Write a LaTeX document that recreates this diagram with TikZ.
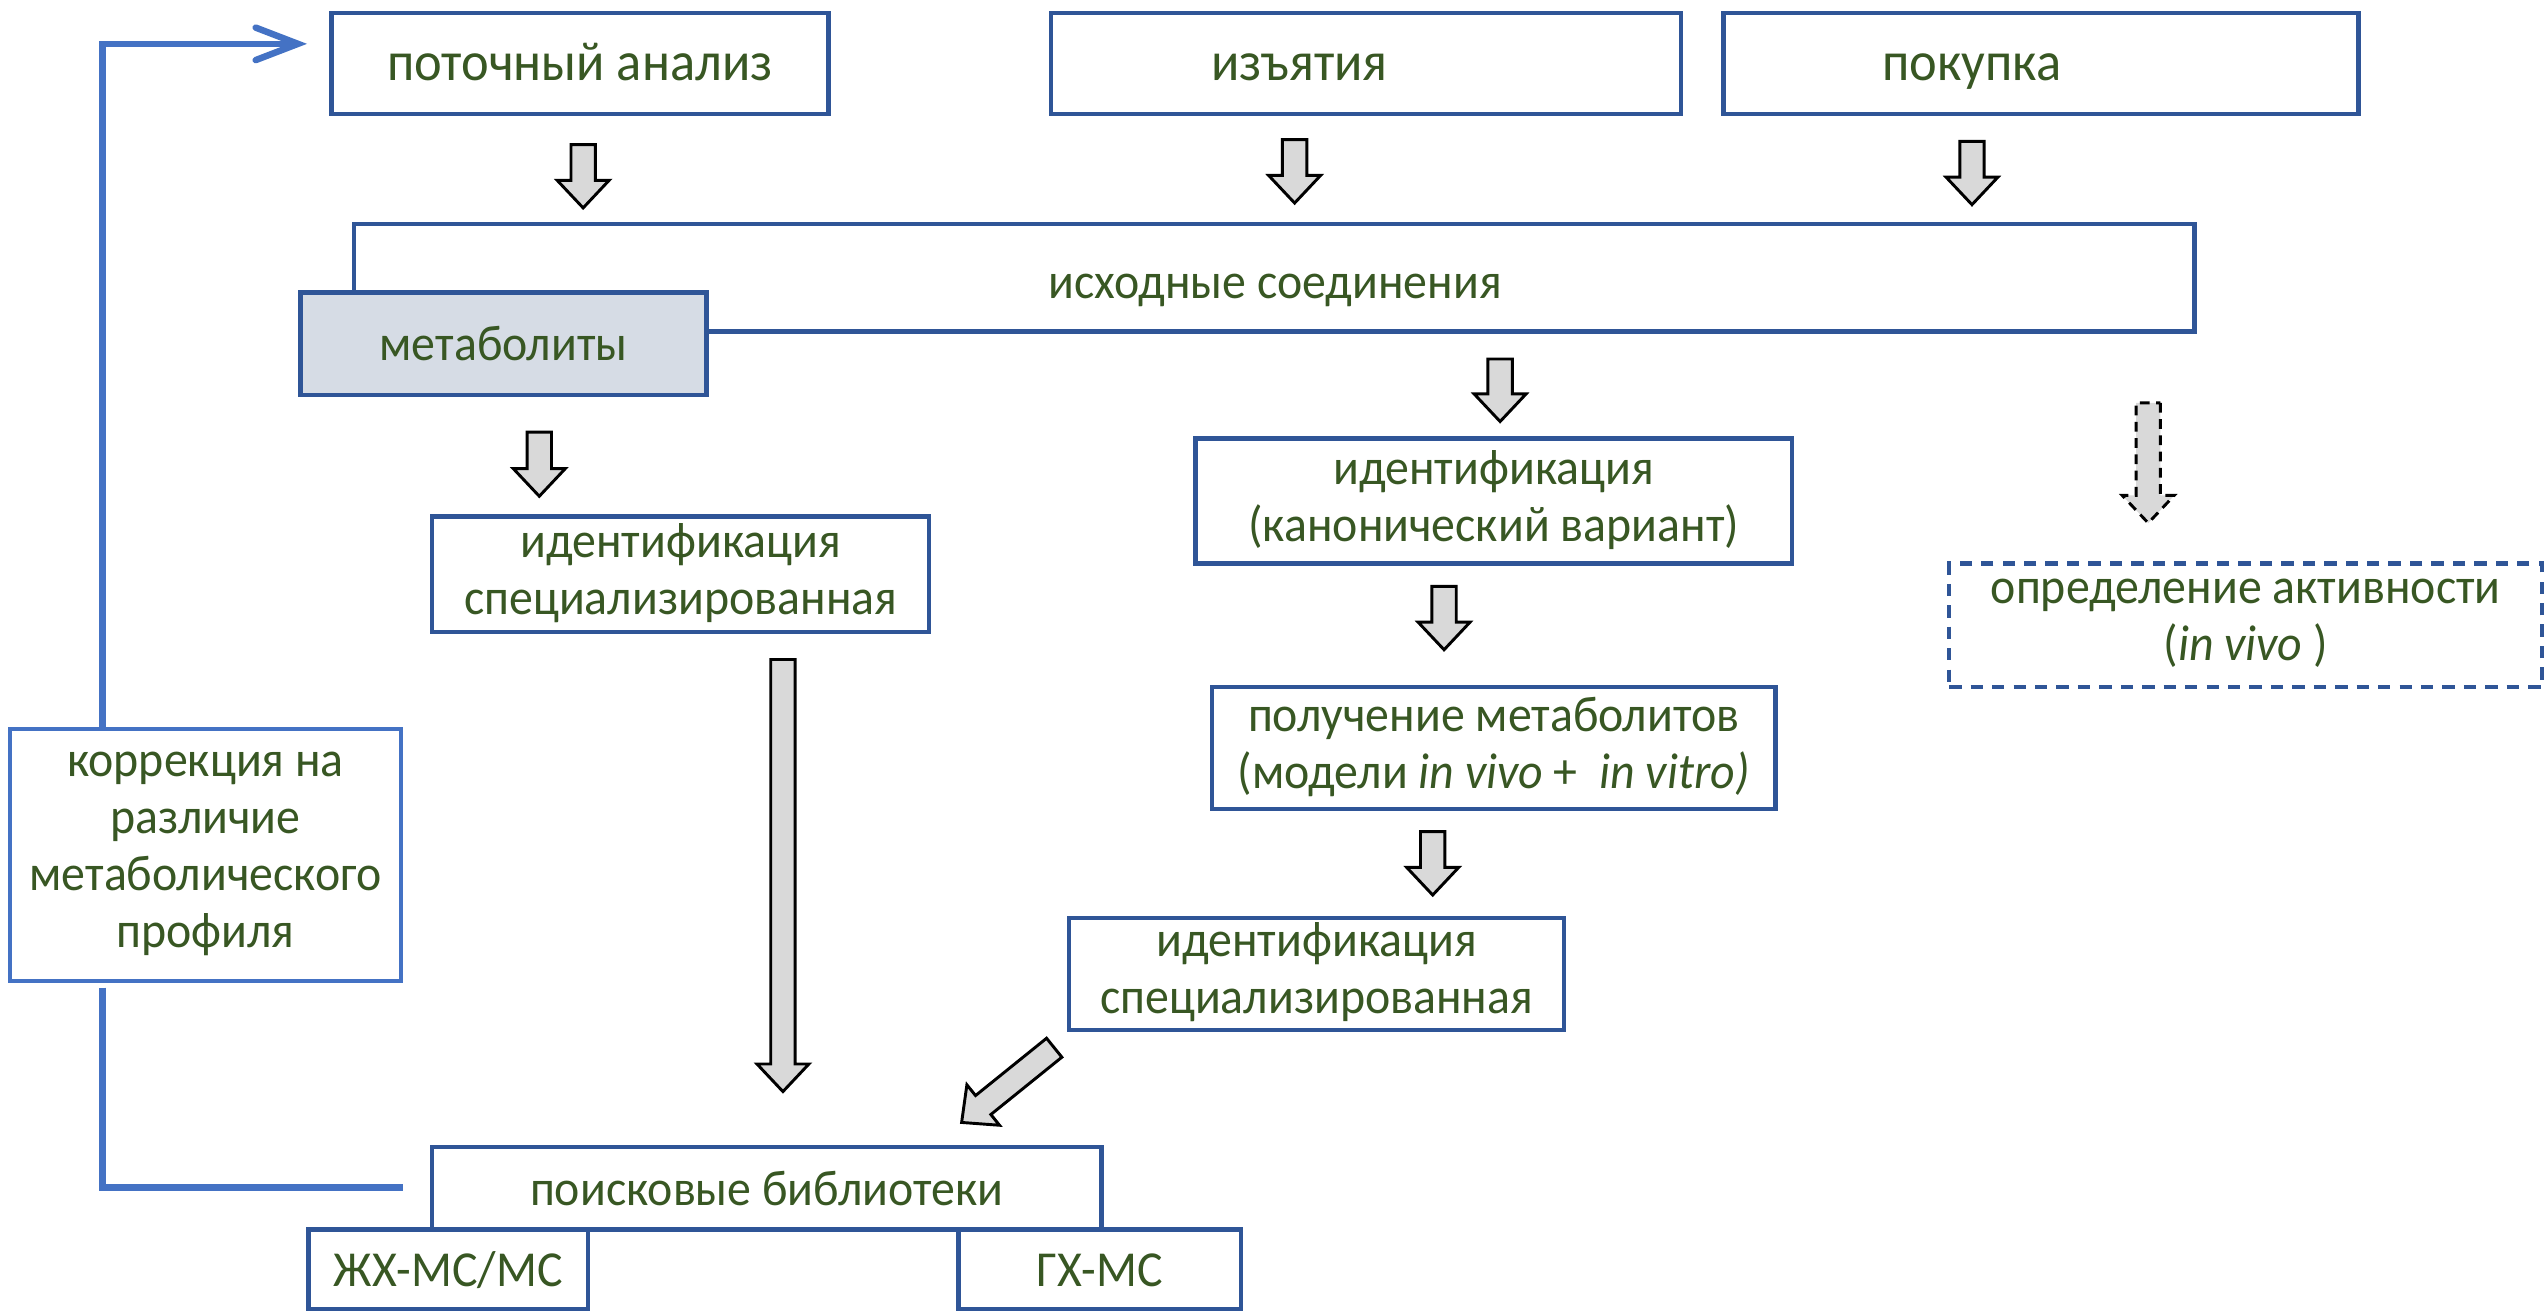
\documentclass[tikz,border=0pt]{standalone}
\usepackage{fontspec}
\setmainfont{Carlito}[FakeStretch=0.95]
\usetikzlibrary{calc,arrows.meta}
\definecolor{txt}{HTML}{385723}
\definecolor{bord}{HTML}{2F5597}
\definecolor{fbl}{HTML}{4472C4}
\definecolor{metfill}{HTML}{D6DCE5}
\definecolor{arrfill}{HTML}{D9D9D9}
\newcommand{\lnstrut}{\rule[-3.4pt]{0pt}{17.5pt}}
\tikzset{
  box/.style={draw=bord, line width=1.35pt, inner sep=0pt, align=center, text=txt,
    font=\fontsize{15.5}{17.5}\selectfont,
    execute at begin node={\lnstrut}, execute at end node={\lnstrut}},
  lbl/.style={inner sep=0pt, align=center, text=txt,
    font=\fontsize{15.5}{17.5}\selectfont,
    execute at begin node={\lnstrut}, execute at end node={\lnstrut}},
  big/.style={font=\fontsize{17}{17.5}\selectfont},
  fb/.style={draw=fbl, line width=2pt},
  barrow/.style={draw=black, fill=arrfill, line width=0.9pt, line join=miter,
    to path={
      let \p1=(\tikztostart), \p2=(\tikztotarget),
          \n1={atan2(\y2-\y1,\x2-\x1)},
          \n2={veclen(\x2-\x1,\y2-\y1)-8.5pt} in
      ($(\p1)+(\n1+90:3.75pt)$)
      -- ($(\p1)+(\n1:\n2)+(\n1+90:3.75pt)$)
      -- ($(\p1)+(\n1:\n2)+(\n1+90:8pt)$)
      -- (\p2)
      -- ($(\p1)+(\n1:\n2)+(\n1-90:8pt)$)
      -- ($(\p1)+(\n1:\n2)+(\n1-90:3.75pt)$)
      -- ($(\p1)+(\n1-90:3.75pt)$) -- cycle
    }}
}
\begin{document}
\begin{tikzpicture}[x=0.5pt,y=-0.5pt]
\useasboundingbox (0,0) rectangle (1568,808.3);
\fill[white] (0,0) rectangle (1568,808.3);

% top row
\node[box, big, minimum width=153pt, minimum height=31pt] (pa) at (357,39) {поточный анализ};
\node[box, minimum width=194pt, minimum height=31pt] (izy) at (841,39) {};
\node[lbl, big] (izytxt) at (800,39) {изъятия};
\node[box, minimum width=195.5pt, minimum height=31pt] (pok) at (1256.5,39) {};
\node[lbl, big] (poktxt) at (1214,39) {покупка};

% source compounds + metabolites
\node[box, minimum width=566.5pt, minimum height=33pt] (iskh) at (784.5,171) {};
\node[lbl] (iskhtxt) at (785,173) {исходные соединения};
\node[box, fill=metfill, minimum width=125pt, minimum height=31.5pt] (met) at (310,211.5) {метаболиты};

% identification boxes
\node[box, minimum width=153pt, minimum height=35.5pt] (idsp1) at (419,353.5) {идентификация\\специализированная};
\node[box, minimum width=183.5pt, minimum height=38.5pt] (idkan) at (919.5,308.5) {идентификация\\(канонический вариант)};
\node[box, minimum width=173.5pt, minimum height=37.5pt] (pol) at (919.5,460.5) {получение метаболитов\\(модели \textit{in vivo} +\ \ \textit{in vitro)}};
\node[box, minimum width=152.5pt, minimum height=34.5pt] (idsp2) at (810.5,599.5) {идентификация\\специализированная};
\node[box, dash pattern=on 3.8pt off 2.8pt, minimum width=182.5pt, minimum height=38pt] (opr) at (1382.5,385) {определение активности\\(\textit{in vivo} )};

% correction box
\node[box, draw=fbl, line width=1.15pt, minimum width=120.5pt, minimum height=77.5pt] (korr) at (126.5,526.5) {коррекция на\\различие\\метаболического\\профиля};

% libraries
\node[box, minimum width=206pt, minimum height=25.5pt] (poisk) at (472,731.5) {поисковые библиотеки};
\node[box, minimum width=86pt, minimum height=24.5pt] (zhx) at (276,781.5) {ЖХ-МС/МС};
\node[box, minimum width=87pt, minimum height=24.5pt] (gx) at (677,781.5) {ГХ-МС};

% block arrows
\coordinate (a1s) at (359,89);   \coordinate (a1e) at (359,128);
\coordinate (a2s) at (797,86);   \coordinate (a2e) at (797,125);
\coordinate (a3s) at (1214,87);  \coordinate (a3e) at (1214,126);
\coordinate (a4s) at (332,266);  \coordinate (a4e) at (332,305.5);
\coordinate (a5s) at (923.5,221);\coordinate (a5e) at (923.5,259.5);
\coordinate (a6s) at (889,361);  \coordinate (a6e) at (889,400);
\coordinate (a7s) at (882,512);  \coordinate (a7e) at (882,551);
\coordinate (a8s) at (482,406);  \coordinate (a8e) at (482,672);
\coordinate (a9s) at (649,645);  \coordinate (a9e) at (592,691);
\coordinate (a10s) at (1322.5,248); \coordinate (a10e) at (1322.5,322);

\draw[barrow] (a1s) to (a1e);
\draw[barrow] (a2s) to (a2e);
\draw[barrow] (a3s) to (a3e);
\draw[barrow] (a4s) to (a4e);
\draw[barrow] (a5s) to (a5e);
\draw[barrow] (a6s) to (a6e);
\draw[barrow] (a7s) to (a7e);
\draw[barrow] (a8s) to (a8e);
\draw[barrow] (a9s) to (a9e);
\draw[barrow, dash pattern=on 3pt off 2pt] (a10s) to (a10e);

% feedback loop
\coordinate (f1) at (63,27);
\coordinate (f2) at (189,27);
\coordinate (f3) at (63,608);
\coordinate (f4) at (63,731);
\coordinate (f5) at (248,731);
\draw[fb, -{Straight Barb[length=13pt,width=10pt,line cap=round]}] (korr.north -| f1) -- (f1) -- (f2);
\draw[fb] (f3) -- (f4) -- (f5);
\end{tikzpicture}
\end{document}
